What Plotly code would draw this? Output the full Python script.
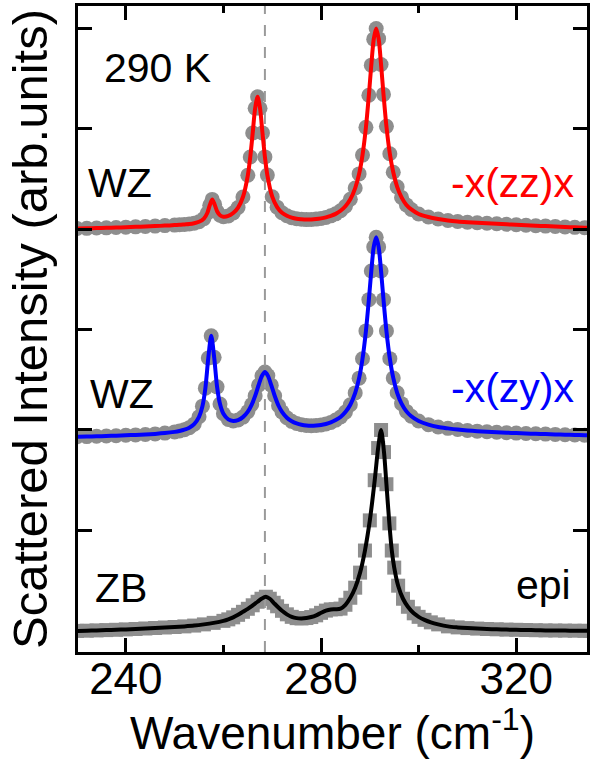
import plotly.graph_objects as go

# ---------------- data ----------------
zz_x = [230, 232, 234, 236, 238, 240, 242, 244, 246, 248, 250,
        251, 252, 253, 254, 255, 256,
        256.7, 257.2, 257.7, 258.2, 258.7, 259.3, 260,
        261, 262, 263, 264, 265,
        265.5, 266, 266.5, 267, 267.5, 268, 268.5, 269,
        270, 271, 272, 273, 274, 275, 276, 277, 278, 279, 280, 281, 282, 283, 284, 285, 286, 287,
        287.8, 288.5, 289.2, 289.8, 290.3, 290.8, 291.3, 291.8, 292.3, 292.8, 293.4, 294.1, 294.8,
        295.6, 296.5, 297.5, 298.5,
        300, 302, 304, 306, 308, 310, 312, 314, 316, 318, 320, 322, 324, 326, 328, 330, 332, 334, 335]
zz_y = [4.005, 4.007, 4.010, 4.012, 4.015, 4.018, 4.022, 4.025, 4.029, 4.034, 4.039,
        4.042, 4.046, 4.050, 4.058, 4.072, 4.104,
        4.160, 4.237, 4.295, 4.245, 4.177, 4.137, 4.123,
        4.130, 4.159, 4.214, 4.319, 4.535,
        4.717, 4.956, 5.202, 5.316, 5.202, 4.957, 4.718, 4.537,
        4.322, 4.218, 4.162, 4.132, 4.113, 4.102, 4.097, 4.094, 4.095, 4.099, 4.106, 4.116, 4.131,
        4.151, 4.182, 4.227, 4.296, 4.408,
        4.549, 4.736, 5.012, 5.331, 5.631, 5.890, 5.996, 5.895, 5.638, 5.340, 5.022, 4.750, 4.565,
        4.420, 4.315, 4.240, 4.195,
        4.150, 4.120, 4.100, 4.085, 4.075, 4.068, 4.062, 4.057, 4.052, 4.047, 4.042, 4.037, 4.033,
        4.029, 4.025, 4.021, 4.017, 4.013, 4.011]

zy_x = [230, 232, 234, 236, 238, 240, 242, 244, 246, 248, 250,
        251, 252, 253, 254, 255,
        255.7, 256.3, 256.9, 257.5, 258.1, 258.7, 259.3, 260,
        261, 262, 263, 264, 265,
        265.8, 266.5, 267.2, 267.9, 268.5, 269.1, 269.8, 270.5, 271.3, 272,
        273, 274, 275, 276, 277, 278, 279, 280, 281, 282, 283, 284, 285, 286, 287,
        287.8, 288.5, 289.2, 289.8, 290.3, 290.8, 291.3, 291.8, 292.3, 292.8, 293.4, 294.1, 294.8,
        295.6, 296.5, 297.5, 298.5,
        300, 302, 304, 306, 308, 310, 312, 314, 316, 318, 320, 322, 324, 326, 328, 330, 332, 334, 335]
zy_y = [1.932, 1.934, 1.937, 1.940, 1.943, 1.947, 1.951, 1.955, 1.961, 1.969, 1.981,
        1.990, 2.003, 2.023, 2.058, 2.131,
        2.237, 2.416, 2.716, 2.937, 2.723, 2.429, 2.258, 2.161,
        2.105, 2.090, 2.099, 2.128, 2.183,
        2.253, 2.339, 2.445, 2.540, 2.577, 2.541, 2.446, 2.341, 2.241, 2.180,
        2.122, 2.086, 2.065, 2.052, 2.045, 2.043, 2.045, 2.050, 2.060, 2.075, 2.098, 2.129, 2.178,
        2.251, 2.369,
        2.516, 2.709, 2.986, 3.297, 3.582, 3.822, 3.918, 3.822, 3.582, 3.297, 2.986, 2.710, 2.518,
        2.370, 2.262, 2.185, 2.136,
        2.089, 2.053, 2.030, 2.016, 2.004, 1.995, 1.988, 1.982, 1.977, 1.973, 1.969, 1.965, 1.962,
        1.959, 1.956, 1.953, 1.951, 1.948, 1.947]

epi_x = [230, 232, 234, 236, 238, 240, 242, 244, 246, 248, 250,
         252, 254, 256, 258, 260,
         261, 262, 263, 264, 265, 266, 267,
         267.8, 268.7, 269.5, 270.3,
         271, 272, 273, 274, 275, 276, 277, 278, 279, 280, 281, 282, 283, 284, 285, 286, 287, 288,
         289, 290, 291,
         291.7, 292.3, 292.9, 293.4,
         294, 294.5, 295, 295.8, 296.8, 297.8,
         299, 300, 301.2, 302.5,
         304, 306, 308, 310, 312, 314, 316, 318, 320, 322, 324, 326, 328, 330, 332, 334, 335]
epi_y = [0.0, 0.002, 0.005, 0.008, 0.011, 0.015, 0.019, 0.024, 0.029, 0.034, 0.039,
         0.045, 0.053, 0.065, 0.08, 0.10,
         0.115, 0.135, 0.16, 0.19, 0.22, 0.255, 0.29,
         0.32, 0.34, 0.32, 0.28,
         0.245, 0.20, 0.165, 0.14, 0.127, 0.124, 0.128, 0.138, 0.155, 0.18, 0.202, 0.214, 0.216,
         0.222, 0.26, 0.33, 0.43, 0.58,
         0.80, 1.10, 1.50,
         1.82, 2.00, 1.78, 1.46,
         1.07, 0.80, 0.63, 0.45, 0.32, 0.24,
         0.175, 0.14, 0.11, 0.085,
         0.065, 0.045, 0.035, 0.028, 0.023, 0.019, 0.016, 0.013, 0.011, 0.009, 0.007, 0.005,
         0.004, 0.003, 0.002, 0.001, 0.0]

to_position = 268.5          # dashed reference line (cm-1)
x_range = [230.2, 334.5]
y_range = [-0.21, 6.22]
x_ticks = [240, 280, 320]

FONT = "Liberation Sans, Arial, Helvetica, sans-serif"
GRAY = "#8e8e8e"

fig = go.Figure()

# measured data (gray markers)
for xs, ys, sym, sz in [(zz_x, zz_y, "circle", 15), (zy_x, zy_y, "circle", 15), (epi_x, epi_y, "square", 14)]:
    fig.add_trace(go.Scatter(x=xs, y=ys, mode="markers",
                             marker=dict(symbol=sym, size=sz, color=GRAY, line=dict(width=0)),
                             hoverinfo="skip", showlegend=False))

# dashed reference line
fig.add_trace(go.Scatter(x=[to_position, to_position], y=y_range, mode="lines",
                         line=dict(color="#9a9a9a", width=2, dash="11px,11px"),
                         hoverinfo="skip", showlegend=False))

# fits
for xs, ys, col in [(zz_x, zz_y, "#ff0000"), (zy_x, zy_y, "#0000ff"), (epi_x, epi_y, "#000000")]:
    fig.add_trace(go.Scatter(x=xs, y=ys, mode="lines",
                             line=dict(color=col, width=4, shape="spline", smoothing=0.8),
                             showlegend=False))

ann = dict(xref="paper", yref="paper", showarrow=False, font=dict(family=FONT, size=41, color="black"))
annotations = [
    dict(text="290 K", x=0.157, y=0.904, xanchor="center", yanchor="middle"),
    dict(text="WZ", x=0.0825, y=0.726, xanchor="center", yanchor="middle"),
    dict(text="-x(zz)x", x=0.978, y=0.726, xanchor="right", yanchor="middle",
         font=dict(family=FONT, size=41, color="#ff0000")),
    dict(text="WZ", x=0.0865, y=0.399, xanchor="center", yanchor="middle"),
    dict(text="-x(zy)x", x=0.978, y=0.409, xanchor="right", yanchor="middle",
         font=dict(family=FONT, size=41, color="#0000ff")),
    dict(text="ZB", x=0.0845, y=0.099, xanchor="center", yanchor="middle"),
    dict(text="epi", x=0.972, y=0.104, xanchor="right", yanchor="middle"),
]
annotations = [{**ann, **a} for a in annotations]

fig.update_layout(
    width=591, height=759,
    margin=dict(l=78, r=4, t=6, b=107, autoexpand=False),
    paper_bgcolor="white", plot_bgcolor="white",
    font=dict(family=FONT, color="black"),
    annotations=annotations,
    showlegend=False,
)
fig.update_xaxes(
    range=x_range, tickmode="array", tickvals=x_ticks,
    ticks="inside", ticklen=14, tickwidth=3, tickcolor="black",
    minor=dict(tickmode="array", tickvals=[260, 300], ticks="inside", ticklen=7, tickwidth=3, tickcolor="black"),
    showline=True, linewidth=3, linecolor="black", mirror="ticks",
    showgrid=False, zeroline=False, automargin=False,
    tickfont=dict(family=FONT, size=44, color="black"),
    ticklabelstandoff=-14,
    title=dict(text="Wavenumber (cm<sup>-1</sup>)", font=dict(family=FONT, size=46, color="black"), standoff=2),
)
fig.update_yaxes(
    range=y_range, tickmode="linear", tick0=0, dtick=1,
    ticks="inside", ticklen=14, tickwidth=3, tickcolor="black",
    showticklabels=False,
    showline=True, linewidth=3, linecolor="black", mirror="ticks",
    showgrid=False, zeroline=False, automargin=False,
    title=dict(text="Scattered Intensity (arb.units)", font=dict(family=FONT, size=49, color="black"), standoff=12),
)

fig.write_html("out.html", config={"displayModeBar": False},
               post_script="document.body.style.margin='0px';")
